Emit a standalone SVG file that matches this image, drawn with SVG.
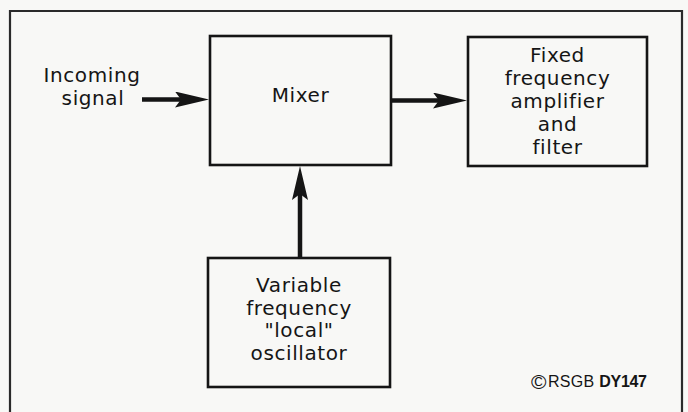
<svg xmlns="http://www.w3.org/2000/svg" width="688" height="412" viewBox="0 0 688 412">
<style>
.box{fill:none;stroke:#151515;stroke-width:2.6}
.lbl{font-family:"DejaVu Sans",sans-serif;font-size:20px;letter-spacing:0.6px;fill:#151515;text-anchor:middle}
.conn{stroke:#151515;stroke-width:4.5;fill:none}
.cr{font-family:"Liberation Sans",Arial,sans-serif;fill:#151515}
</style>
<defs>
<marker id="ah" markerUnits="userSpaceOnUse" markerWidth="36" markerHeight="18" refX="6" refY="8" orient="auto" viewBox="0 0 36 18">
<path d="M0,0 L34,8 L0,16 L6,8 Z" fill="#151515"/>
</marker>
</defs>
<rect width="688" height="412" fill="#f8f8f6"/>
<path d="M10,414 V11 H682 V414" fill="none" stroke="#2a2a2a" stroke-width="2.2"/>
<g id="incoming">
<text class="lbl" x="92" y="82">Incoming</text>
<text class="lbl" x="93" y="105">signal</text>
</g>
<g id="mixer">
<rect class="box" x="210" y="36" width="181" height="129"/>
<text class="lbl" x="300.5" y="102" letter-spacing="0">Mixer</text>
</g>
<g id="fixed">
<rect class="box" x="468" y="37" width="179" height="129"/>
<text class="lbl" x="557.5" y="62">Fixed</text>
<text class="lbl" x="557.5" y="85">frequency</text>
<text class="lbl" x="557.5" y="108">amplifier</text>
<text class="lbl" x="557.5" y="131">and</text>
<text class="lbl" x="557.5" y="154">filter</text>
</g>
<g id="oscillator">
<rect class="box" x="208" y="258" width="182" height="129"/>
<text class="lbl" x="299" y="292">Variable</text>
<text class="lbl" x="299" y="314.5">frequency</text>
<text class="lbl" x="299" y="337">"local"</text>
<text class="lbl" x="299" y="359.5">oscillator</text>
</g>
<g id="connectors">
<line class="conn" x1="142" y1="99.5" x2="181" y2="99.5" marker-end="url(#ah)"/>
<line class="conn" x1="391" y1="100.5" x2="439" y2="100.5" marker-end="url(#ah)"/>
<line class="conn" x1="300" y1="258" x2="300" y2="194" marker-end="url(#ah)"/>
</g>
<g id="copyright">
<text class="cr" x="531" y="389" font-size="21">©</text>
<text class="cr" x="548" y="387" font-size="16" letter-spacing="0.3">RSGB <tspan font-weight="bold" letter-spacing="-0.3">DY147</tspan></text>
</g>
</svg>
